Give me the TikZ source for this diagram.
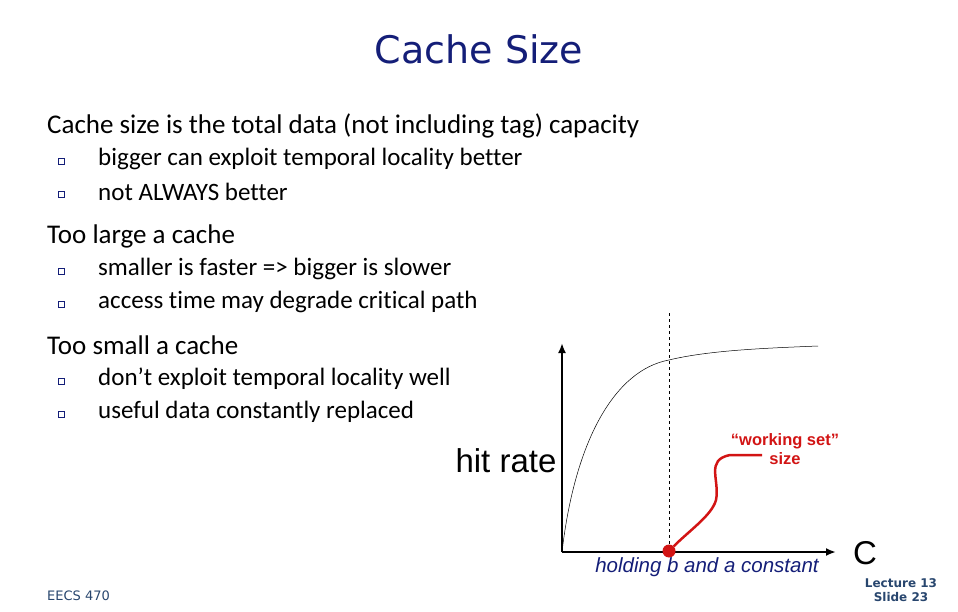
\documentclass[tikz,border=0pt]{standalone}
\usepackage{fontspec}
\setmainfont{Carlito}[Contextuals=NoAlternate,Ligatures=NoCommon]
\newfontfamily\arial{Liberation Sans}
\newfontfamily\comic{DejaVu Sans}
\definecolor{navy}{RGB}{20,30,120}
\definecolor{lec}{RGB}{40,70,110}
\definecolor{redc}{RGB}{210,20,20}
\begin{document}
\begin{tikzpicture}[x=1pt,y=-1pt,
  body/.style={anchor=west,inner sep=0,font=\fontsize{27}{30}\selectfont},
  sub/.style={anchor=west,inner sep=0,font=\fontsize{25}{28}\selectfont},
  bul/.style={draw=navy,fill=white,line width=0.9pt,minimum size=6pt,inner sep=0},
  ax/.style={line width=2.8pt,-{Latex[length=10pt,width=8pt]}}]
\usetikzlibrary{arrows.meta}
\useasboundingbox (0,0) rectangle (958,612);
\node[inner sep=0,text=navy,font=\comic\fontsize{38}{42}\selectfont] (title) at (479,49) {Cache Size};
\node[body] (t1) at (47,126) {Cache size is the total data (not including tag) capacity};
\node[bul] (b1) at (61,161) {}; \node[sub] (s1) at (98,159) {bigger can exploit temporal locality better};
\node[bul] (b2) at (61,194) {}; \node[sub] (s2) at (98,192) {not ALWAYS better};
\node[body] (t2) at (47,236) {Too large a cache};
\node[bul] (b3) at (61,271) {}; \node[sub] (s3) at (98,269) {smaller is faster => bigger is slower};
\node[bul] (b4) at (61,304) {}; \node[sub] (s4) at (98,302) {access time may degrade critical path};
\node[body] (t3) at (47,345) {Too small a cache};
\node[bul] (b5) at (61,381) {}; \node[sub] (s5) at (98,379) {don’t exploit temporal locality well};
\node[bul] (b6) at (61,414) {}; \node[sub] (s6) at (98,412) {useful data constantly replaced};
% graph
\coordinate (o) at (562,552);
\coordinate (ytop) at (562,343);
\coordinate (xend) at (836,552);
\draw[line width=0.5pt] (o) .. controls (575,440) and (615,370) .. (669,360) .. controls (710,350) and (770,348) .. (818,346);
\draw[dashed,line width=0.6pt] (669,313) -- (669,552);
\draw[ax] (o) -- (ytop);
\draw[ax] (o) -- (xend);
\node[circle,fill=redc,minimum size=13pt,inner sep=0] (dot) at (669,551) {};
\draw[redc,line width=2.5pt] (dot) .. controls (690,530) and (712,515) .. (716,500) .. controls (720,480) and (705,460) .. (730,455) -- (762,455);
\node[inner sep=0,text=redc,font=\arial\bfseries\fontsize{16.5}{19}\selectfont,align=center] (ws) at (785,449) {“working set”\\size};
\node[inner sep=0,font=\arial\fontsize{33}{36}\selectfont] (hr) at (506,461) {hit rate};
\node[inner sep=0,font=\arial\fontsize{33}{36}\selectfont] (c) at (865,553) {C};
\node[inner sep=0,text=navy,font=\arial\itshape\fontsize{20.5}{22}\selectfont] (hold) at (707,567) {holding b and a constant};
\node[inner sep=0,text=lec,font=\comic\bfseries\fontsize{12}{14}\selectfont,align=center] (lec) at (901,590) {Lecture 13\\Slide 23};
\node[inner sep=0,anchor=west,text=lec,font=\comic\fontsize{13}{15}\selectfont] (eecs) at (47,596) {EECS 470};
\end{tikzpicture}
\end{document}
